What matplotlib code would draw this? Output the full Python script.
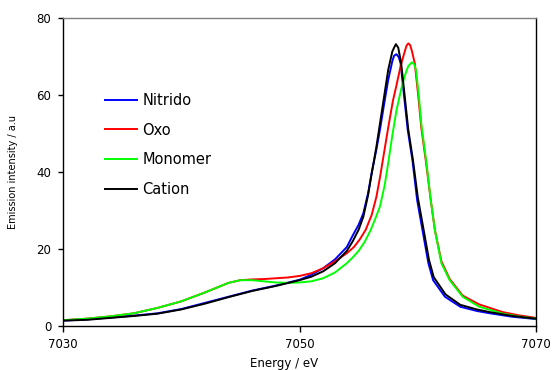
import numpy as np
import matplotlib
matplotlib.use('Agg')
import matplotlib.pyplot as plt

# values
e_nitrido = [7030, 7032, 7034, 7036, 7038, 7040, 7042, 7044, 7046, 7048, 7050, 7051, 7052, 7053,
             7054, 7054.5, 7055, 7055.4, 7055.8, 7056.1, 7056.5, 7056.8, 7057.15, 7057.5, 7057.85,
             7058.0, 7058.2, 7058.4, 7058.55, 7058.85, 7059.15, 7059.55, 7059.95, 7060.4, 7060.9,
             7061.3, 7062.3, 7063.6, 7065, 7066.1, 7068, 7070]
i_nitrido = [1.4, 1.7, 2.2, 2.7, 3.3, 4.4, 6.0, 7.6, 9.2, 10.5, 12.0, 13.3, 15.0, 17.3,
             20.5, 23.5, 26.3, 29.3, 34.5, 39.7, 45.8, 50.9, 57.5, 63.9, 68.8,
             70.2, 70.6, 69.8, 68.2, 59.6, 51.0, 43.1, 32.7, 24.9, 16.3,
             11.9, 7.6, 5.0, 3.9, 3.3, 2.4, 1.8]

e_oxo = [7030, 7032, 7034, 7036, 7038, 7040, 7042, 7044, 7045, 7046, 7047, 7048, 7049, 7050, 7051,
         7052, 7053, 7054, 7054.6, 7055.1, 7055.6, 7056.1, 7056.5, 7056.8, 7057.15, 7057.5, 7057.9,
         7058.2, 7058.55, 7058.9, 7059.05, 7059.2, 7059.35, 7059.5, 7059.75, 7060.05, 7060.3,
         7060.7, 7061.1, 7061.45, 7062.0, 7062.7, 7063.8, 7065.2, 7067.2, 7068.5, 7070]
i_oxo = [1.5, 1.9, 2.5, 3.3, 4.7, 6.4, 8.7, 11.2, 11.9, 12.1, 12.2, 12.4, 12.6, 13.0, 13.7,
         15.0, 16.8, 18.9, 20.5, 22.5, 25.0, 28.8, 33.5, 38.5, 45.0, 51.5, 58.5,
         62.5, 67.5, 71.3, 72.8, 73.4, 73.0, 71.5, 68.2, 59.6, 51.5,
         42.5, 32.7, 24.9, 16.8, 12.2, 7.9, 5.6, 3.6, 2.8, 2.1]

e_monomer = [7030, 7032, 7034, 7036, 7038, 7040, 7042, 7044, 7045, 7046, 7047, 7048, 7049, 7050,
             7051, 7052, 7053, 7054, 7054.5, 7055, 7055.5, 7056, 7056.4, 7056.8, 7057.2, 7057.5,
             7057.85, 7058.2, 7058.6, 7058.9, 7059.2, 7059.5, 7059.7, 7059.85, 7060.1, 7060.3,
             7060.75, 7061.1, 7061.45, 7062.0, 7062.7, 7063.8, 7065.2, 7067.2, 7068.5, 7070]
i_monomer = [1.5, 1.9, 2.5, 3.3, 4.7, 6.4, 8.7, 11.2, 11.9, 11.9, 11.6, 11.3, 11.2, 11.3,
             11.6, 12.4, 13.9, 16.3, 17.8, 19.5, 21.8, 24.8, 27.8, 31.0, 36.5, 42.3,
             49.5, 56.0, 61.5, 65.0, 67.5, 68.5, 68.0, 66.5, 59.6, 52.5,
             42.0, 32.7, 24.9, 16.3, 11.9, 7.6, 5.0, 3.2, 2.5, 1.9]

e_cation = [7030, 7032, 7034, 7036, 7038, 7040, 7042, 7044, 7046, 7048, 7050, 7051, 7052, 7053,
            7054, 7054.5, 7055, 7055.4, 7055.8, 7056.1, 7056.5, 7056.8, 7057.15, 7057.5, 7057.85,
            7058.0, 7058.15, 7058.35, 7058.6, 7058.9, 7059.2, 7059.6, 7060.0, 7060.45, 7060.95,
            7061.35, 7062.35, 7063.6, 7065, 7066.1, 7068, 7070]
i_cation = [1.4, 1.6, 2.1, 2.6, 3.2, 4.3, 5.8, 7.5, 9.1, 10.4, 11.9, 12.8, 14.2, 16.3,
            19.5, 22.0, 25.0, 28.4, 34.0, 39.5, 46.5, 52.5, 59.5, 66.5, 71.3,
            72.3, 73.2, 72.3, 68.2, 59.6, 51.0, 43.0, 33.5, 25.8, 17.2,
            12.7, 8.2, 5.5, 4.3, 3.6, 2.6, 1.9]

series = [('Nitrido', e_nitrido, i_nitrido, '#0000ff'),
          ('Oxo', e_oxo, i_oxo, '#ff0000'),
          ('Monomer', e_monomer, i_monomer, '#00ff00'),
          ('Cation', e_cation, i_cation, 'black')]

plt.rcParams['font.family'] = ['DejaVu Sans']

fig = plt.figure(figsize=(5.52, 3.7), dpi=100)
ax = fig.add_axes([63/552, 1-326/370, 473/552, 308/370])

for name, e, i, c in series:
    ax.plot(e, i, color=c, lw=1.4, label=name)

ax.set_xlim(7030, 7070)
ax.set_ylim(0, 80)
ax.set_xticks([7030, 7050, 7070])
ax.set_yticks([0, 20, 40, 60, 80])
ax.tick_params(axis='x', direction='out', length=4, width=1, pad=5, labelsize=8.5)
ax.tick_params(axis='y', direction='out', length=3.5, width=1, pad=5, labelsize=8.5)

for s in ['left', 'bottom', 'right']:
    ax.spines[s].set_color('black')
    ax.spines[s].set_linewidth(1)
ax.spines['top'].set_color('#808080')
ax.spines['top'].set_linewidth(1)

ax.set_xlabel('Energy / eV', fontsize=8.5, va='center')
ax.xaxis.set_label_coords((284-63)/473, (326-363)/308)
ax.set_ylabel('Emission intensity / a.u', fontsize=7, va='center')
ax.yaxis.set_label_coords((13-63)/473, (326-172)/308)

leg = ax.legend(loc='upper left', bbox_to_anchor=((105-63)/473, (326-93)/308),
                frameon=False, fontsize=10.5, handlelength=2.2, handletextpad=0.35,
                labelspacing=1.0, borderpad=0, borderaxespad=0)

plt.savefig('out.png', dpi=100)
